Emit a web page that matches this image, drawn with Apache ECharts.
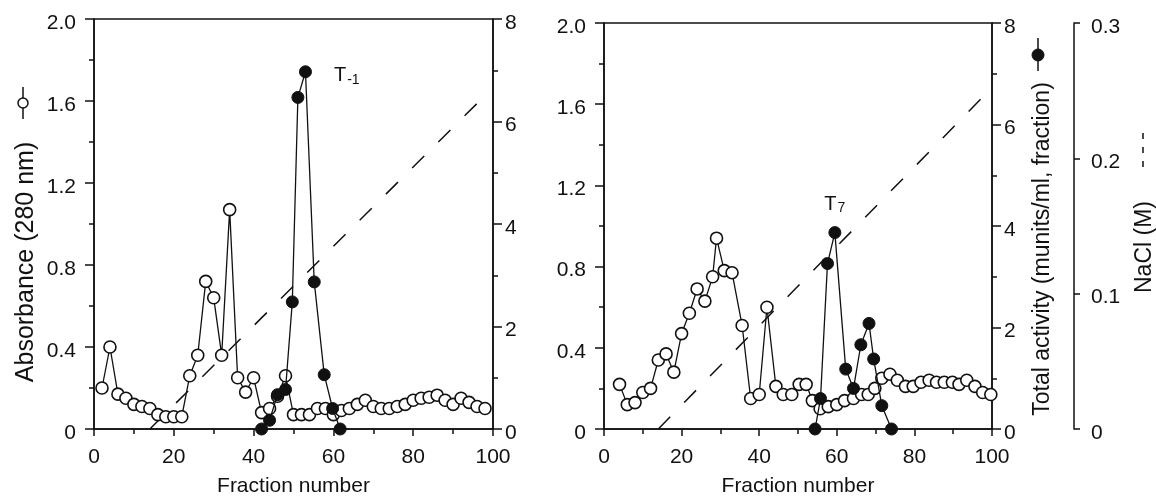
<!DOCTYPE html>
<html>
<head>
<meta charset="utf-8">
<script src="https://cdn.jsdelivr.net/npm/echarts@6/dist/echarts.min.js"></script>
<style>
html,body{margin:0;padding:0;background:#fff;}
#chart{width:1156px;height:502px;}
</style>
</head>
<body>
<div id="chart"></div>
<script>
// ---- Data ----
// Left panel (T-1)
const leftAbsFraction = [2,4,6,8,10,12,14,16,18,20,22,24,26,28,30,32,34,36,38,40,42,44,46,48,50,52,54,56,58,60,62,64,66,68,70,72,74,76,78,80,82,84,86,88,90,92,94,96,98];
const leftAbs = [0.20,0.40,0.17,0.15,0.12,0.11,0.10,0.07,0.06,0.06,0.06,0.26,0.36,0.72,0.64,0.36,1.07,0.25,0.18,0.25,0.08,0.10,0.16,0.26,0.07,0.07,0.07,0.10,0.10,0.07,0.09,0.10,0.12,0.14,0.11,0.10,0.10,0.11,0.12,0.14,0.15,0.155,0.165,0.14,0.12,0.15,0.13,0.11,0.10];
const leftActFraction = [42,44,46,48,49.7,51.1,53,55.2,57.7,59.8,61.7];
const leftAct = [0,0.17,0.67,0.77,2.48,6.47,6.97,2.87,1.06,0.4,0];
const leftNaClFraction = [14,98];
const leftNaCl = [0,0.244];

// Right panel (T7)
const rightAbsFraction = [4,6,8,10,12,14,16,18,20,22,24,26,28,29,31,33,35.6,37.8,40,42,44.3,46.2,48.4,50.3,52.1,53.7,55.7,57.8,60,62,64.3,66.4,68.1,69.8,71.6,73.7,75.6,77.7,79.7,81.7,83.8,85.7,87.7,89.8,91.5,93.5,95.6,97.6,99.7];
const rightAbs = [0.22,0.12,0.13,0.18,0.20,0.34,0.37,0.28,0.47,0.57,0.69,0.63,0.75,0.94,0.78,0.77,0.51,0.15,0.17,0.60,0.21,0.17,0.17,0.22,0.22,0.14,0.10,0.11,0.12,0.14,0.15,0.17,0.17,0.20,0.25,0.27,0.24,0.21,0.21,0.23,0.24,0.23,0.23,0.23,0.22,0.24,0.21,0.18,0.17];
const rightActFraction = [54.4,55.8,57.6,59.5,62.3,64.3,66.2,68.3,69.5,71.6,74.1];
const rightAct = [0,0.6,3.26,3.87,1.18,0.8,1.66,2.08,1.38,0.46,0];
const rightNaClFraction = [14,98.2];
const rightNaCl = [0,0.247];

// Peak labels
const leftPeakLabel = ['T', '-1'];
const rightPeakLabel = ['T', '7'];

// Tick labels / texts
const xTitle = 'Fraction number';
const absTitle = 'Absorbance (280 nm)';
const actTitle = 'Total activity (munits/ml, fraction)';
const naclTitle = 'NaCl (M)';

// ---- Build ----
const FONT = 'Liberation Sans, Arial, Helvetica, sans-serif';
const BLACK = '#111';
function zip(xs, ys){ return xs.map((x,i)=>[x, ys[i]]); }
function peakIndex(arr){ let m=0; arr.forEach((v,i)=>{ if(v>arr[m]) m=i; }); return m; }

const tickLine = {color: BLACK, width: 1.5};
function xAxis(gi){
  return {
    type:'value', gridIndex: gi, min:0, max:100, interval:20,
    axisLine:{show:true, onZero:false, lineStyle:tickLine},
    axisTick:{show:true, length:7, lineStyle:tickLine},
    minorTick:{show:true, splitNumber:2, length:5, lineStyle:tickLine},
    splitLine:{show:false},
    axisLabel:{color:BLACK, fontSize:21, fontFamily:FONT, margin:18},
    name: xTitle, nameLocation:'middle', nameGap:47,
    nameTextStyle:{color:BLACK, fontSize:21, fontFamily:FONT}
  };
}
const yLabelStyle = {color:BLACK, fontSize:21, fontFamily:FONT, verticalAlign:'top', lineHeight:8};
function absAxis(gi){
  return {
    type:'value', gridIndex: gi, position:'left', min:0, max:2.0, interval:0.4,
    axisLine:{show:true, onZero:false, lineStyle:tickLine},
    axisTick:{show:true, length:9, lineStyle:tickLine},
    minorTick:{show:true, splitNumber:2, length:5, lineStyle:tickLine},
    splitLine:{show:false},
    axisLabel:Object.assign({margin:18, formatter: v => v===0 ? '0' : v.toFixed(1)}, yLabelStyle)
  };
}
function actAxis(gi){
  return {
    type:'value', gridIndex: gi, position:'right', min:0, max:8, interval:2,
    axisLine:{show:true, onZero:false, lineStyle:tickLine},
    axisTick:{show:true, length:9, lineStyle:tickLine},
    minorTick:{show:true, splitNumber:2, length:5, lineStyle:tickLine},
    splitLine:{show:false},
    axisLabel:Object.assign({margin:12}, yLabelStyle)
  };
}
function naclAxis(gi, visible){
  return {
    type:'value', gridIndex: gi, position:'right', offset: 82, min:0, max:0.3, interval:0.1,
    show: visible,
    axisLine:{show:true, onZero:false, lineStyle:tickLine},
    axisTick:{show:true, length:6, lineStyle:tickLine},
    splitLine:{show:false},
    axisLabel:Object.assign({margin:17, formatter: v => v===0 ? '0' : v.toFixed(1)}, yLabelStyle)
  };
}

function absSeries(xi, yi, xs, ys){
  return {type:'line', xAxisIndex:xi, yAxisIndex:yi, data: zip(xs, ys),
    symbol:'circle', symbolSize:12, z:3,
    lineStyle:{color:BLACK, width:1.3},
    itemStyle:{color:'#fff', borderColor:BLACK, borderWidth:1.6},
    animation:false};
}
function actSeries(xi, yi, xs, ys, labelParts, labelOpts){
  const data = zip(xs, ys).map(p => ({value:p}));
  const pk = peakIndex(ys);
  data[pk].label = Object.assign({show:true, color:BLACK, fontFamily:FONT,
    formatter: '{t|' + labelParts[0] + '}{s|' + labelParts[1] + '}',
    rich:{t:{fontSize:20, fontFamily:FONT, color:BLACK, verticalAlign:'bottom'},
          s:{fontSize:14, fontFamily:FONT, color:BLACK, verticalAlign:'bottom', padding:[0,0,-1,1]}}
  }, labelOpts);
  return {type:'line', xAxisIndex:xi, yAxisIndex:yi, data,
    symbol:'circle', symbolSize:12, z:4,
    lineStyle:{color:BLACK, width:1.3},
    itemStyle:{color:BLACK, borderColor:BLACK, borderWidth:1},
    animation:false};
}
function naclSeries(xi, yi, xs, ys){
  return {type:'line', xAxisIndex:xi, yAxisIndex:yi, data: zip(xs, ys),
    symbol:'none', z:2, lineStyle:{color:BLACK, width:1.5, type:[17,20]},
    animation:false};
}

const option = {
  backgroundColor:'#fff',
  animation:false,
  textStyle:{fontFamily:FONT},
  grid:[
    {left:94, top:19, width:399, height:416, show:true, borderColor:BLACK, borderWidth:1.5, backgroundColor:'transparent'},
    {left:604, top:23, width:388, height:414, show:true, borderColor:BLACK, borderWidth:1.5, backgroundColor:'transparent'}
  ],
  xAxis:[xAxis(0), xAxis(1)],
  yAxis:[absAxis(0), actAxis(0), naclAxis(0,false), absAxis(1), actAxis(1), naclAxis(1,true)],
  series:[
    naclSeries(0, 2, leftNaClFraction, leftNaCl),
    absSeries(0, 0, leftAbsFraction, leftAbs),
    actSeries(0, 1, leftActFraction, leftAct, leftPeakLabel, {position:'right', distance:22, offset:[0,4]}),
    naclSeries(1, 5, rightNaClFraction, rightNaCl),
    absSeries(1, 3, rightAbsFraction, rightAbs),
    actSeries(1, 4, rightActFraction, rightAct, rightPeakLabel, {position:'top', distance:12, offset:[0,0]})
  ],
  graphic:[
    // axis titles
    {type:'text', x:26, y:262, rotation:Math.PI/2, style:{text:absTitle, fontSize:25, fontFamily:FONT, fill:BLACK, align:'center', verticalAlign:'middle'}},
    {type:'text', x:1043, y:249, rotation:Math.PI/2, style:{text:actTitle, fontSize:23, fontFamily:FONT, fill:BLACK, align:'center', verticalAlign:'middle'}},
    {type:'text', x:1145, y:247, rotation:Math.PI/2, style:{text:naclTitle, fontSize:23, fontFamily:FONT, fill:BLACK, align:'center', verticalAlign:'middle'}},
    // symbol keys
    {type:'line', shape:{x1:23, y1:87, x2:23, y2:119}, style:{stroke:BLACK, lineWidth:1.5}},
    {type:'circle', shape:{cx:23, cy:103, r:5}, style:{fill:'#fff', stroke:BLACK, lineWidth:1.5}, z:10},
    {type:'line', shape:{x1:1038, y1:38, x2:1038, y2:71}, style:{stroke:BLACK, lineWidth:1.5}},
    {type:'circle', shape:{cx:1038, cy:55, r:6}, style:{fill:BLACK, stroke:BLACK, lineWidth:1}, z:10},
    {type:'line', shape:{x1:1143, y1:133, x2:1143, y2:173}, style:{stroke:BLACK, lineWidth:1.5, lineDash:[6,8]}}
  ]
};

const chart = echarts.init(document.getElementById('chart'), null, {renderer:'canvas'});
chart.setOption(option);
</script>
</body>
</html>
